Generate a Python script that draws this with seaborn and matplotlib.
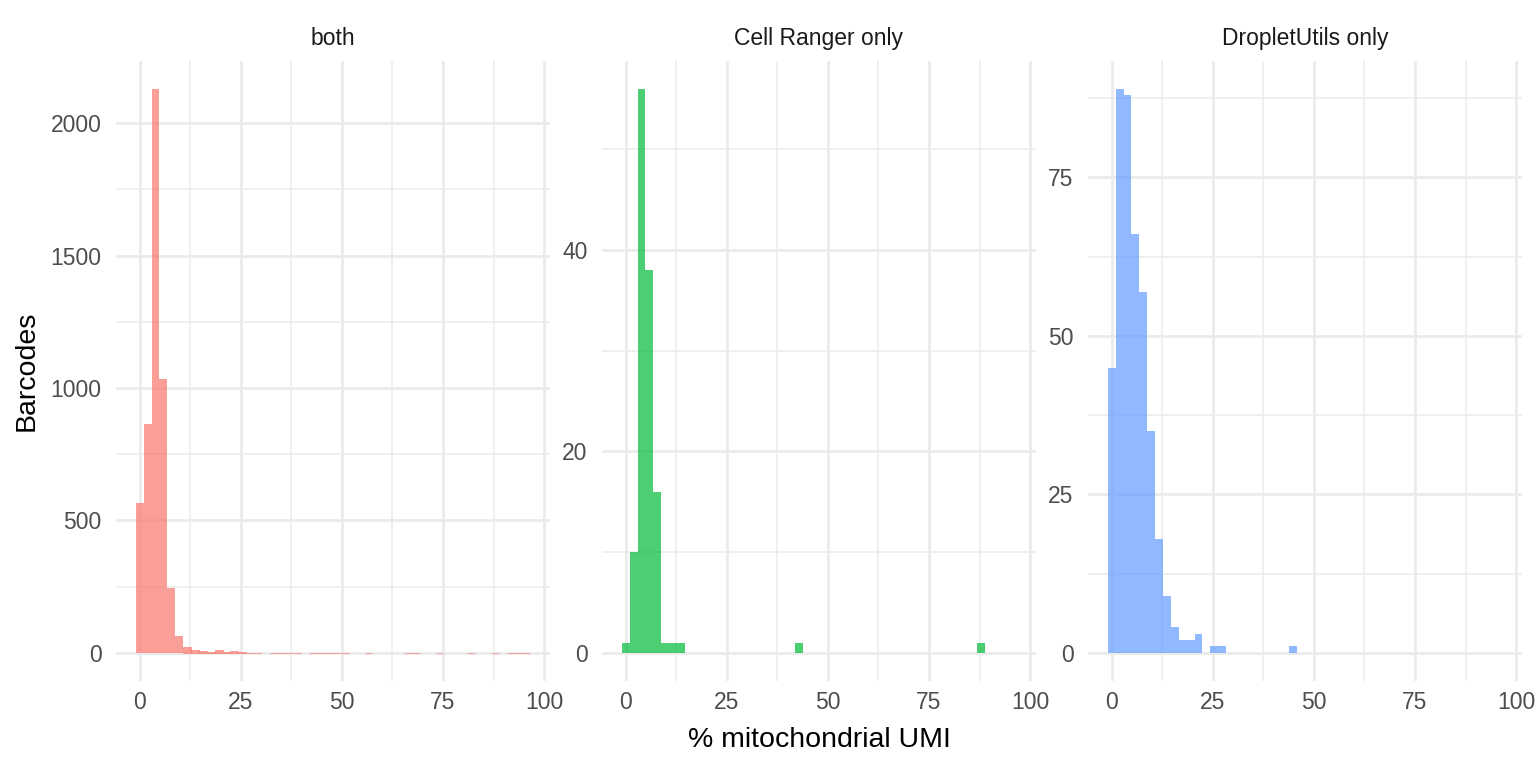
import numpy as np
import pandas as pd
import matplotlib
matplotlib.use("Agg")
import matplotlib.pyplot as plt
from matplotlib.ticker import MultipleLocator, AutoMinorLocator
import seaborn as sns

# facets and their fill colours (ggplot default hue palette)
PANELS = ["both", "Cell Ranger only", "DropletUtils only"]
COLORS = ["#F8766D", "#00BA38", "#619CFF"]
Y_STEP = [500, 20, 25]

# histogram: 50 bins over the % range, bin k centred on k * BIN_WIDTH
N_BINS = 50
BIN_WIDTH = 1.951

both_counts = [
    566, 864, 2130, 1033, 246, 62, 20, 12, 8, 2,
    9, 2, 5, 2, 1, 1, 0, 1, 1, 1,
    1, 0, 1, 1, 1, 1, 1, 0, 0, 1,
    0, 0, 0, 0, 1, 1, 0, 0, 1, 0,
    0, 0, 1, 0, 0, 1, 0, 1, 1, 1,
]
cellranger_counts = [
    1, 10, 56, 38, 16, 1, 1, 1, 0, 0,
    0, 0, 0, 0, 0, 0, 0, 0, 0, 0,
    0, 0, 1, 0, 0, 0, 0, 0, 0, 0,
    0, 0, 0, 0, 0, 0, 0, 0, 0, 0,
    0, 0, 0, 0, 0, 1, 0, 0, 0, 0,
]
dropletutils_counts = [
    45, 89, 88, 66, 57, 35, 18, 9, 4, 2,
    2, 3, 0, 1, 1, 0, 0, 0, 0, 0,
    0, 0, 0, 1, 0, 0, 0, 0, 0, 0,
    0, 0, 0, 0, 0, 0, 0, 0, 0, 0,
    0, 0, 0, 0, 0, 0, 0, 0, 0, 0,
]

centers = np.arange(N_BINS) * BIN_WIDTH
bin_lo = centers[0] - BIN_WIDTH / 2
bin_hi = centers[-1] + BIN_WIDTH / 2
df = pd.DataFrame({
    "source": np.repeat(PANELS, N_BINS),
    "pct": np.tile(centers, len(PANELS)),
    "n": both_counts + cellranger_counts + dropletutils_counts,
})

sns.set_style("white")
plt.rcParams["font.family"] = ["Liberation Sans", "DejaVu Sans"]

W, H = 1536, 768
fig = plt.figure(figsize=(W / 100, H / 100), dpi=100)

# panel boxes in pixels: left edges, width, top, bottom
lefts = [116, 602, 1088]
pw, top, bottom = 434, 60.5, 681

xspan = bin_hi - bin_lo
xlim = (bin_lo - 0.05 * xspan, bin_hi + 0.05 * xspan)

for name, color, left, ystep in zip(PANELS, COLORS, lefts, Y_STEP):
    ax = fig.add_axes([left / W, 1 - bottom / H, pw / W, (bottom - top) / H])
    sub = df[df["source"] == name]
    sns.histplot(data=sub, x="pct", weights="n", binwidth=BIN_WIDTH,
                 binrange=(bin_lo, bin_hi), color=color,
                 alpha=0.7, linewidth=0, ax=ax)
    ymax = sub["n"].max()
    # tiny bars (a count of 1 in the big panel) still show as a thin line
    for bar in ax.patches:
        if 0 < bar.get_height() < 0.01 * ymax:
            bar.set_edgecolor(bar.get_facecolor())
            bar.set_linewidth(0.6)
    ax.set_xlim(*xlim)
    ax.set_ylim(-0.05 * ymax, 1.05 * ymax)
    ax.xaxis.set_major_locator(MultipleLocator(25))
    ax.xaxis.set_minor_locator(AutoMinorLocator(2))
    ax.yaxis.set_major_locator(MultipleLocator(ystep))
    ax.yaxis.set_minor_locator(AutoMinorLocator(2))
    ax.grid(which="major", color="#EBEBEB", linewidth=2.0)
    ax.grid(which="minor", color="#EBEBEB", linewidth=1.1)
    ax.set_axisbelow(True)
    ax.tick_params(which="both", length=0, labelsize=16.5, labelcolor="#4D4D4D")
    ax.tick_params(axis="x", pad=7.5)
    ax.tick_params(axis="y", pad=10.5)
    ax.set_xlabel("")
    ax.set_ylabel("")
    ax.set_title(name, fontsize=16.5, color="#1A1A1A", pad=11)
    sns.despine(ax=ax, left=True, bottom=True)

fig.text((lefts[0] + lefts[-1] + pw) / 2 / W, 1 - 740 / H, "% mitochondrial UMI",
         ha="center", va="center", fontsize=20.5, color="black")
fig.text(27 / W, 1 - (top + bottom) / 2 / H, "Barcodes", rotation=90,
         ha="center", va="center", fontsize=20.5, color="black")

fig.savefig("out.png", dpi=100, facecolor="white")
